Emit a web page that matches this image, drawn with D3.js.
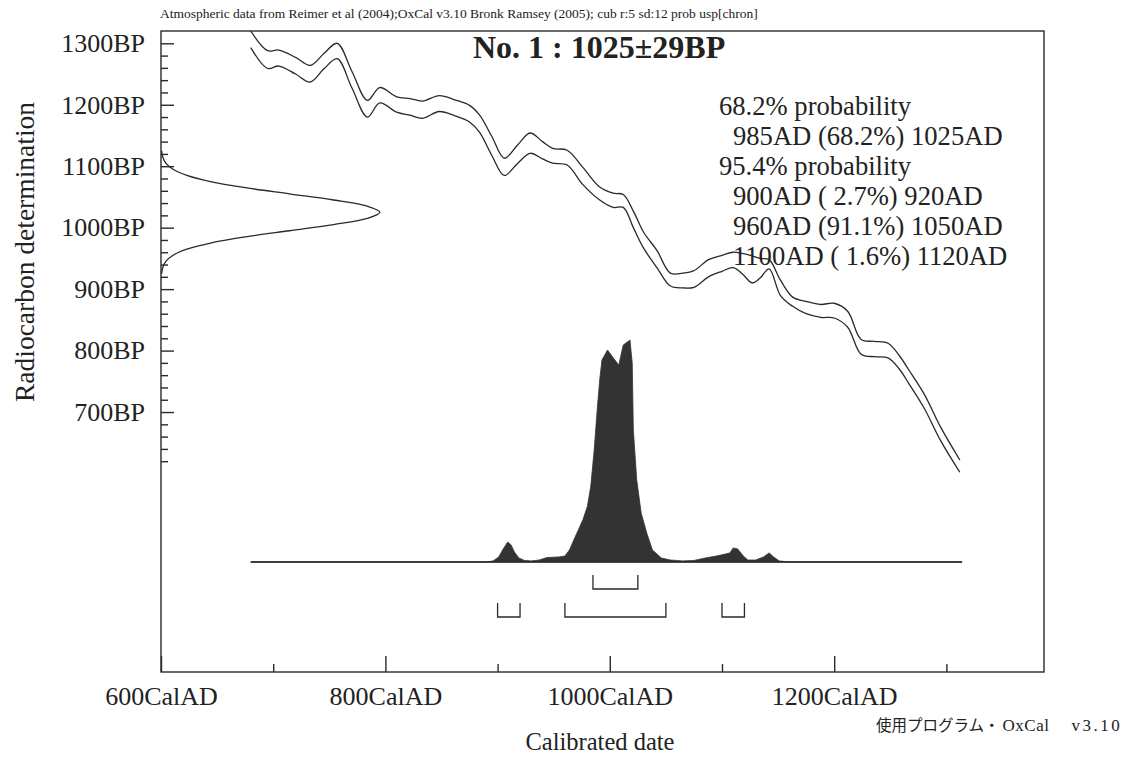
<!DOCTYPE html>
<html><head><meta charset="utf-8">
<script src="https://cdn.jsdelivr.net/npm/d3@7"></script>
<style>
body{margin:0;background:#fff}
svg{display:block}
text{font-family:"Liberation Serif","Times New Roman",serif;fill:#222}
</style>
</head><body>
<svg id="c" width="1143" height="765"></svg>
<script>
// ---------- data ----------
const calYears   = [680,695,705,720,733,745,757,770,784,795,810,822,833,848,862,875,884,895,906,918,929,940,949,962,976,991,1003,1012,1021,1030,1042,1054,1065,1075,1088,1100,1110,1118,1127,1134,1142,1152,1163,1175,1188,1200,1212,1224,1236,1248,1258,1266,1280,1295,1312];
const calUpperBP = [1320,1288,1289,1277,1264,1283,1300,1255,1207,1228,1213,1210,1206,1215,1208,1199,1183,1148,1113,1135,1154,1140,1129,1126,1098,1066,1056,1054,1027,993,963,926,926,930,948,955,960,958,954,950,948,915,887,880,875,877,864,818,815,812,792,770,730,675,622];
const calLowerBP = [1293,1259,1263,1250,1237,1258,1275,1228,1180,1203,1188,1183,1178,1189,1182,1172,1155,1117,1085,1105,1121,1112,1105,1102,1070,1045,1033,1033,1000,967,935,905,902,903,920,929,935,925,910,918,933,890,872,860,854,853,838,794,790,788,770,748,707,653,602];

// calibrated probability (relative, % of maximum)
const probYears = [680,890,896,901,905,909,912,915,919,924,930,937,944,955,960,964,968,972,976,980,983,986,989,991,993,998,1003,1008,1012,1018,1020,1021,1024,1028,1033,1038,1046,1054,1065,1075,1085,1095,1103,1107,1110,1114,1119,1123,1130,1137,1142,1146,1151,1160,1314];
const probRel   = [0,0,0.5,2.3,5.9,9.0,7.7,4.5,1.8,0.7,0.5,0.9,2.0,2.3,2.7,5.4,10,14.5,19,25,34,50,70,82,91,95.5,92,88.7,97.7,100,89.6,59.5,37,22,13,5.4,1.8,0.9,0.5,0.7,1.8,2.7,3.6,4.1,6.3,5.9,2.7,0.9,0.9,2.3,4.1,2.3,0.5,0,0];

// radiocarbon determination 1025±29BP (relative density)
const detBP   = [1125,1115,1105,1095,1085,1075,1065,1055,1045,1035,1025,1015,1005,995,985,975,965,955,945,935,925];
const detProb = [0.003,0.008,0.022,0.055,0.118,0.226,0.386,0.586,0.788,0.942,1.0,0.942,0.788,0.586,0.386,0.226,0.118,0.055,0.022,0.008,0.003];

const range68 = [[985,1025]];
const range95 = [[900,920],[960,1050],[1100,1120]];

const yMajorTicks = [1300,1200,1100,1000,900,800,700];
const yMinorTicks = [620,640,660,680,720,740,760,780,820,840,860,880,920,940,960,980,1020,1040,1060,1080,1120,1140,1160,1180,1220,1240,1260,1280];
const xMajorTicks = [600,800,1000,1200];
const xMinorTicks = [700,900,1100,1300];

const headerText = "Atmospheric data from Reimer et al (2004);OxCal v3.10 Bronk Ramsey (2005); cub r:5 sd:12 prob usp[chron]";
const titleText = "No. 1 : 1025±29BP";
const resultLines = [
  {t:"68.2% probability", indent:false},
  {t:"985AD (68.2%) 1025AD", indent:true},
  {t:"95.4% probability", indent:false},
  {t:"900AD ( 2.7%) 920AD", indent:true},
  {t:"960AD (91.1%) 1050AD", indent:true},
  {t:"1100AD ( 1.6%) 1120AD", indent:true}
];

// ---------- layout ----------
const L = 161, T = 31, R = 1044, B = 672;
const svg = d3.select("#c");
const x = d3.scaleLinear().domain([600, 1387]).range([L, R]);
const y = d3.scaleLinear().domain([277, 1320]).range([B, T]);
const yProb = d3.scaleLinear().domain([0, 100]).range([562, 340]);
const xDet = d3.scaleLinear().domain([0, 1]).range([L, 380]);
const ink = "#2a2a2a";

// header
svg.append("text").attr("x", 160).attr("y", 18).attr("font-size", 13.5).text(headerText);

// frame
svg.append("rect").attr("x", L).attr("y", T).attr("width", R-L).attr("height", B-T)
  .attr("fill", "none").attr("stroke", ink).attr("stroke-width", 1.4);

// y axis
const yAxMajor = d3.axisLeft(y).tickValues(yMajorTicks).tickSize(-13).tickPadding(16)
  .tickFormat(d => d + "BP");
const gy = svg.append("g").attr("transform", `translate(${L},0)`).call(yAxMajor);
const yAxMinor = d3.axisLeft(y).tickValues(yMinorTicks).tickSize(-7).tickFormat("");
const gy2 = svg.append("g").attr("transform", `translate(${L},0)`).call(yAxMinor);

// x axis
const xAxMajor = d3.axisBottom(x).tickValues(xMajorTicks).tickSize(-16).tickPadding(15)
  .tickFormat(d => d + "CalAD");
const gx = svg.append("g").attr("transform", `translate(0,${B})`).call(xAxMajor);
const xAxMinor = d3.axisBottom(x).tickValues(xMinorTicks).tickSize(-8).tickFormat("");
const gx2 = svg.append("g").attr("transform", `translate(0,${B})`).call(xAxMinor);

[gy, gy2, gx, gx2].forEach(g => {
  g.select(".domain").remove();
  g.selectAll(".tick line").attr("stroke", ink).attr("stroke-width", 1.4);
  g.selectAll("text").attr("font-size", 26).attr("fill", "#222")
    .attr("font-family", "Liberation Serif, Times New Roman, serif");
});

// axis titles
svg.append("text").attr("transform", "translate(34,252) rotate(-90)")
  .attr("text-anchor", "middle").attr("font-size", 27.5).text("Radiocarbon determination");
svg.append("text").attr("x", 600).attr("y", 750).attr("text-anchor", "middle")
  .attr("font-size", 24.5).text("Calibrated date");

// calibration curve
const calData = calYears.map((yr, i) => ({yr, u: calUpperBP[i], l: calLowerBP[i]}));
svg.append("clipPath").attr("id", "pc").append("rect")
  .attr("x", L).attr("y", T).attr("width", R-L).attr("height", B-T);
const lineU = d3.line().x(d => x(d.yr)).y(d => y(d.u)).curve(d3.curveCatmullRom.alpha(0.5));
const lineL = d3.line().x(d => x(d.yr)).y(d => y(d.l)).curve(d3.curveCatmullRom.alpha(0.5));
const gc = svg.append("g").attr("clip-path", "url(#pc)");
gc.append("path").datum(calData).attr("d", lineU).attr("fill", "none").attr("stroke", ink).attr("stroke-width", 1.3);
gc.append("path").datum(calData).attr("d", lineL).attr("fill", "none").attr("stroke", ink).attr("stroke-width", 1.3);

// radiocarbon determination on the y axis
const detData = detBP.map((bp, i) => ({bp, p: detProb[i]}));
svg.append("path").datum(detData)
  .attr("d", d3.line().x(d => xDet(d.p)).y(d => y(d.bp)).curve(d3.curveCatmullRom.alpha(0.5)))
  .attr("fill", "none").attr("stroke", ink).attr("stroke-width", 1.3);

// calibrated distribution
const probData = probYears.map((yr, i) => ({yr, p: probRel[i]}));
svg.append("path").datum(probData)
  .attr("d", d3.area().x(d => x(d.yr)).y0(yProb(0)).y1(d => yProb(d.p)))
  .attr("fill", "#333").attr("stroke", "#333").attr("stroke-width", 0.8);
svg.append("line").attr("x1", x(probYears[0])).attr("x2", x(probYears[probYears.length-1]))
  .attr("y1", yProb(0)).attr("y2", yProb(0)).attr("stroke", ink).attr("stroke-width", 1.4);

// range brackets
function bracket(r, yb, h) {
  const p = d3.path();
  p.moveTo(x(r[0]), yb - h); p.lineTo(x(r[0]), yb); p.lineTo(x(r[1]), yb); p.lineTo(x(r[1]), yb - h);
  svg.append("path").attr("d", p.toString()).attr("fill", "none").attr("stroke", ink).attr("stroke-width", 1.3);
}
range68.forEach(r => bracket(r, 589, 14));
range95.forEach(r => bracket(r, 617, 14));

// title
svg.append("text").attr("x", 473).attr("y", 58).attr("font-size", 32).attr("font-weight", "bold")
  .text(titleText);

// results text
resultLines.forEach((ln, i) => {
  svg.append("text").attr("x", ln.indent ? 733 : 719).attr("y", 115 + i * 30)
    .attr("font-size", 26.6).attr("xml:space", "preserve").style("white-space", "pre").text(ln.t);
});

// footer
const ft = svg.append("text").attr("x", 876).attr("y", 731).attr("font-size", 17);
ft.append("tspan").attr("font-family", "Noto Sans CJK JP").attr("font-size", 15.5).text("使用プログラム・");
ft.append("tspan").attr("dx", 3).attr("letter-spacing", 0.5).text("OxCal");
ft.append("tspan").attr("dx", 22).attr("letter-spacing", 2.5).text("v3.10");
</script>
</body></html>
